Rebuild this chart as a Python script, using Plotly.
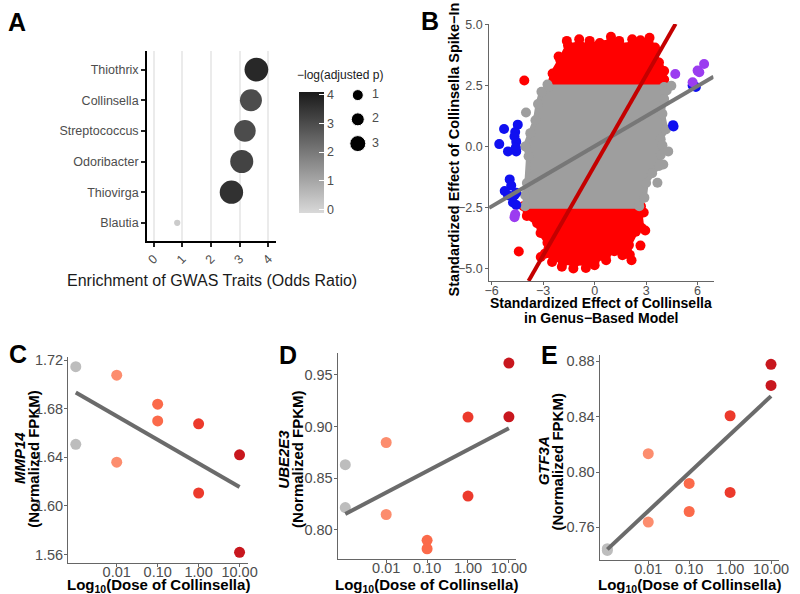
import numpy as np
import plotly.graph_objects as go

# ---------------- data ----------------
# A: GWAS trait enrichment per genus
genera = ["Thiothrix", "Collinsella", "Streptococcus", "Odoribacter", "Thiovirga", "Blautia"]
odds_ratio = [3.58, 3.39, 3.18, 3.07, 2.71, 0.82]
neglog_p = [3.8, 3.0, 3.0, 3.2, 3.6, 0.2]          # colour
size_val = [3.6, 3.1, 3.0, 3.4, 3.5, 0.25]         # dot size
legend_p = [1, 2, 3]

# B: outline of the point cloud (standardized effects)
grey_x = [-2.7, 4.05, 4.2, 4.05, 3.95, 4.15, 3.85, 3.95, 3.85, 3.75, 3.35, 3.0, 2.9, 2.6,
          -4.05, -4.05, -3.95, -3.85, -4.05, -3.75, -3.45, -3.3, -3.1]
grey_y = [2.45, 2.45, 2.3, 1.95, 1.35, 0.7, 0.3, 0.05, -0.35, -0.8, -1.1, -1.5, -2.1, -2.45,
          -2.45, -2.0, -1.5, -0.4, 0.0, 0.55, 1.08, 1.75, 2.25]
grey_pts_x = [-4.0, 4.47, 4.29, 4.0, 3.66, -2.75]
grey_pts_y = [1.4, 2.5, -0.2, -0.74, -1.49, 2.55]

red_top_x = [-2.65, -2.45, -2.0, -1.55, -0.9, -0.3, 0.3, 0.95, 1.45, 2.2, 2.7, 3.15, 3.4, 3.75, 4.05, 4.05, 4.0]
red_top_y = [2.45, 3.0, 3.55, 4.15, 4.2, 4.15, 4.25, 4.3, 4.15, 4.2, 4.15, 4.25, 3.9, 3.45, 3.1, 2.75, 2.45]
red_bot_x = [-4.15, -3.95, -3.35, -3.15, -2.75, -2.9, -2.4, -1.85, -1.2, -0.5, 0.0, 0.65, 1.15, 1.6, 2.05,
             2.0, 2.4, 2.75, 2.65, 2.7]
red_bot_y = [-2.45, -2.85, -3.15, -3.55, -3.95, -4.4, -4.55, -4.75, -4.8, -4.78, -4.7, -4.5, -4.3, -4.3, -4.45,
             -4.05, -3.5, -3.35, -2.75, -2.45]
red_pts_x = [-4.1, -0.29, 0.95, 3.2, -0.9, 2.19, -1.62, -2.1, 1.43, 2.67, 3.52,
             -4.42, -3.14, -1.24, -0.51, 2.15, 2.67, 2.95, 2.86, 1.62, -2.48, -1.91, 0.0, 0.67]
red_pts_y = [2.71, 4.34, 4.51, 4.47, 4.41, 4.41, 4.34, 3.7, 4.34, 4.37, 4.07,
             -4.31, -4.54, -5.01, -4.99, -4.67, -4.07, -3.45, -2.71, -4.47, -4.74, -4.94, -4.88, -4.67]

blue_x = [-5.56, -5.28, -5.05, -4.57, -4.57, -4.48, -4.63, -4.67, -4.95, -4.86, -5.24, -5.05, -4.57,
          -4.76, -4.57, -4.67, -4.6, 4.57, 4.6, 5.71, 5.9]
blue_y = [0.1, 0.72, -0.2, -0.2, 0.2, 0.9, 0.6, 0.41, -1.35, -1.6, -1.83, -2.0, -1.9,
          -2.3, -2.4, -2.0, -0.05, 0.88, 0.82, 2.51, 2.45]
purple_x = [4.7, 5.71, 6.0, 6.1, 6.38, -4.63, -4.67]
purple_y = [2.98, 2.64, 3.12, 3.05, 3.39, -2.78, -2.9]

fit_grey_x = [-6.15, 6.93]
fit_grey_y = [-2.52, 2.87]
fit_red_x = [-3.85, 4.72]
fit_red_y = [-5.52, 5.04]

# C-E: expression vs dose (control drawn at -3)
log_dose = [-3, -3, -2, -2, -1, -1, 0, 0, 1, 1]
dose_ticks = [-2, -1, 0, 1]
dose_labels = ["0.01", "0.10", "1.00", "10.00"]
mmp14 = [1.7146, 1.6507, 1.7076, 1.6360, 1.6837, 1.6699, 1.6675, 1.6106, 1.6420, 1.5618]
ube2e3 = [0.8630, 0.8214, 0.8845, 0.8147, 0.7897, 0.7815, 0.9091, 0.8326, 0.9615, 0.9094]
gtf3a = [0.7434, 0.7446, 0.8133, 0.7639, 0.7918, 0.7715, 0.8407, 0.7853, 0.8779, 0.8626]

dose_colors = {-3: "#bdbdbd", -2: "#fc8d6e", -1: "#fb6a4a", 0: "#ec3a2c", 1: "#c8171e"}

FONT = "Liberation Sans, Arial, sans-serif"
TICKGREY = "#4d4d4d"

W, H = 800, 594


def px(x):
    return x / W


def py(y):
    return 1 - y / H


fig = go.Figure()

# ---------------- A ----------------
fig.add_trace(go.Scatter(
    x=odds_ratio, y=genera, mode="markers", xaxis="x", yaxis="y",
    marker=dict(size=[12.5 * np.sqrt(v) for v in size_val], color=neglog_p,
                colorscale=[[0, "#d9d9d9"], [1, "#1a1a1a"]], cmin=-0.1, cmax=4.1,
                line=dict(width=0), opacity=1,
                colorbar=dict(x=px(300), xanchor="left", xpad=0, y=py(147.5), yanchor="middle", ypad=0,
                              len=121, lenmode="pixels", thickness=25, thicknessmode="pixels",
                              outlinewidth=0, tickvals=[0, 1, 2, 3, 4], ticks="inside",
                              tickcolor="white", ticklen=5,
                              tickfont=dict(size=12.5, color=TICKGREY, family=FONT))),
    showlegend=False))

# size legend
fig.add_trace(go.Scatter(
    x=[0.2] * 3, y=legend_p, mode="markers", xaxis="x6", yaxis="y6",
    marker=dict(size=[11, 13, 16], color="#000000", opacity=1), showlegend=False))
fig.add_trace(go.Scatter(
    x=[0.56] * 3, y=legend_p, mode="text", text=[str(p) for p in legend_p], xaxis="x6", yaxis="y6",
    textfont=dict(size=12.5, color=TICKGREY, family=FONT), showlegend=False))

# ---------------- B ----------------
def cloud(xs, ys, color):
    fig.add_trace(go.Scatter(
        x=xs, y=ys, mode="lines+markers", fill="toself", fillcolor=color,
        line=dict(color=color, width=5), marker=dict(size=10, color=color),
        xaxis="x2", yaxis="y2", showlegend=False))


def pts(xs, ys, color):
    fig.add_trace(go.Scatter(
        x=xs, y=ys, mode="markers", marker=dict(size=10, color=color),
        xaxis="x2", yaxis="y2", showlegend=False))


cloud(red_top_x, red_top_y, "#ff0000")
cloud(red_bot_x, red_bot_y, "#ff0000")
pts(red_pts_x, red_pts_y, "#ff0000")
cloud(grey_x, grey_y, "#9e9e9e")
pts(grey_pts_x, grey_pts_y, "#9e9e9e")
pts(blue_x, blue_y, "#1010f0")
pts(purple_x, purple_y, "#9b3cf0")
fig.add_trace(go.Scatter(x=fit_grey_x, y=fit_grey_y, mode="lines", line=dict(color="#777777", width=4),
                         xaxis="x2", yaxis="y2", showlegend=False))
fig.add_trace(go.Scatter(x=fit_red_x, y=fit_red_y, mode="lines", line=dict(color="#c40000", width=4),
                         xaxis="x2", yaxis="y2", showlegend=False))

# ---------------- C, D, E ----------------
for k, vals in zip(["3", "4", "5"], [mmp14, ube2e3, gtf3a]):
    slope, icpt = np.polyfit(log_dose, vals, 1)
    fig.add_trace(go.Scatter(
        x=log_dose, y=vals, mode="markers", xaxis="x" + k, yaxis="y" + k,
        marker=dict(size=11, color=[dose_colors[d] for d in log_dose]), showlegend=False))
    fig.add_trace(go.Scatter(
        x=[-3, 1], y=[slope * -3 + icpt, slope * 1 + icpt], mode="lines",
        line=dict(color="#6b6b6b", width=4), xaxis="x" + k, yaxis="y" + k, showlegend=False))

# ---------------- axes ----------------
tickA = dict(size=12.5, color=TICKGREY, family=FONT)
layout = dict(
    width=W, height=H, margin=dict(l=0, r=0, t=0, b=0),
    paper_bgcolor="white", plot_bgcolor="white",
    font=dict(family=FONT),
    xaxis=dict(domain=[px(145), px(277)], range=[-0.23, 4.28], tickvals=[0, 1, 2, 3, 4],
               tickangle=-45, showgrid=True, gridcolor="#ebebeb", gridwidth=2, zeroline=False,
               showline=True, linecolor="black", linewidth=2, ticks="outside", ticklen=4,
               tickwidth=2, tickcolor="#222", tickfont=tickA, anchor="y"),
    yaxis=dict(domain=[py(237), py(45)], range=[-0.58, 5.62], type="category",
               categoryorder="array", categoryarray=genera[::-1], showgrid=False, zeroline=False,
               showline=True, linecolor="black", linewidth=2, ticks="outside", ticklen=4,
               tickwidth=2, tickcolor="#222", tickfont=tickA, anchor="x"),
    xaxis6=dict(domain=[px(350), px(400)], range=[0, 1], visible=False, anchor="y6"),
    yaxis6=dict(domain=[py(150), py(80)], range=[3.449, 0.592], visible=False, anchor="x6"),
)

thin = dict(showgrid=False, zeroline=False, showline=True, linecolor="#666666", linewidth=1,
            ticks="outside", ticklen=3, tickcolor="#666666")
layout["xaxis2"] = dict(domain=[px(494), px(723)], range=[-6.15, 6.93], tickvals=[-6, -3, 0, 3, 6],
                        ticktext=["\u22126", "\u22123", "0", "3", "6"], anchor="y2", ticklabelstandoff=-5,
                        tickfont=dict(size=12.5, color=TICKGREY), **thin)
layout["yaxis2"] = dict(domain=[py(277.7), py(18.3)], range=[-5.52, 5.03],
                        tickvals=[-5, -2.5, 0, 2.5, 5],
                        ticktext=["\u22125.0", "\u22122.5", "0.0", "2.5", "5.0"], anchor="x2",
                        tickfont=dict(size=12.5, color=TICKGREY), **thin)

panels = {
    "3": ([64.3, 247.7], [562.3, 355], [-3.19, 1.2], [1.5533, 1.7222], [1.56, 1.60, 1.64, 1.68, 1.72]),
    "4": ([339.3, 521.7], [558.3, 350.7], [-3.19, 1.18], [0.7719, 0.9711], [0.80, 0.85, 0.90, 0.95]),
    "5": ([606.7, 790], [559.3, 352.7], [-3.19, 1.2], [0.7367, 0.8845], [0.76, 0.80, 0.84, 0.88]),
}
for k, (xd, yd, xr, yr, yt) in panels.items():
    layout["xaxis" + k] = dict(domain=[px(xd[0]), px(xd[1])], range=xr, tickvals=dose_ticks,
                               ticktext=dose_labels, anchor="y" + k, ticklabelstandoff=-7,
                               tickfont=dict(size=14.5, color=TICKGREY), **thin)
    layout["yaxis" + k] = dict(domain=[py(yd[0]), py(yd[1])], range=yr, tickvals=yt,
                               ticktext=["{:.2f}".format(v) for v in yt], anchor="x" + k,
                               ticklabelstandoff=-2,
                               tickfont=dict(size=14.5, color=TICKGREY), **thin)

fig.update_layout(**layout)

# ---------------- text ----------------
def note(x, y, text, size, angle=0, color="black"):
    fig.add_annotation(x=px(x), y=py(y), xref="paper", yref="paper", text=text, showarrow=False,
                       textangle=angle, xanchor="center", yanchor="middle",
                       font=dict(size=size, color=color, family=FONT))


for lab, (lx, ly) in {"A": (12, 16), "B": (434, 15), "C": (13, 352), "D": (289, 353), "E": (556, 353)}.items():
    note(lx, ly, "<b>" + lab + "</b>", 25)

note(211, 277, "Enrichment of GWAS Traits (Odds Ratio)", 16, color="#1a1a1a")
note(342, 70, "\u2212log(adjusted p)", 12, color="#1a1a1a")

note(458, 145, "<b>Standardized Effect of Collinsella Spike\u2212In</b>", 14.5, angle=-90)
note(608.5, 300, "<b>Standardized Effect of Collinsella</b>", 14)
note(608.5, 315, "<b>in Genus\u2212Based Model</b>", 14)

xtitle = "<b>Log<sub>10</sub>(Dose of Collinsella)</b>"
for cx, gene, x1, x2, cy in [(156.5, "MMP14", 15, 29, 457), (430, "UBE2E3", 284, 298.5, 458),
                            (698, "GTF3A", 549, 563.5, 460)]:
    note(cx, 585, xtitle, 15)
    note(x1, cy, "<b><i>" + gene + "</i></b>", 15, angle=-90)
    note(x2, cy, "<b>(Normalized FPKM)</b>", 15, angle=-90)

fig.write_html("out.html", config={"displayModeBar": False},
               post_script="document.body.style.margin='0px';")
